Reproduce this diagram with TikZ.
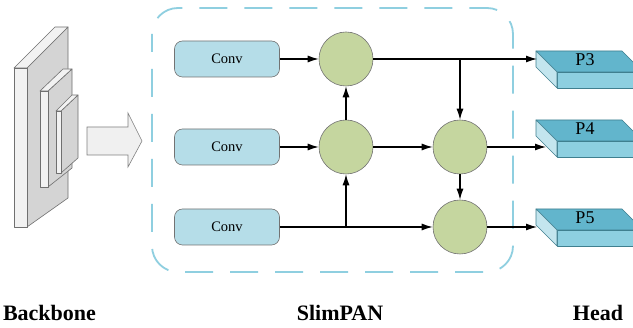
\documentclass[tikz,border=0pt]{standalone}
\usepackage{fontspec}
\setmainfont{Liberation Serif}
\usetikzlibrary{arrows.meta}
\definecolor{convfill}{HTML}{B5DDE8}
\definecolor{circfill}{HTML}{C5D69F}
\definecolor{dashblue}{HTML}{8FCFE0}
\definecolor{ptop}{HTML}{62B5CC}
\definecolor{pfront}{HTML}{8DCFE0}
\definecolor{pside}{HTML}{C3E5EE}
\definecolor{pedge}{HTML}{3F7F8F}
\definecolor{bbside}{HTML}{D4D4D4}
\definecolor{bbfront}{HTML}{F2F2F2}
\definecolor{bbedge}{HTML}{707070}
\tikzset{
  convbox/.style={draw=black!55, fill=convfill, rounded corners=8pt, minimum width=105pt, minimum height=36pt, inner sep=0pt, font=\fontsize{14.5}{16}\selectfont, line width=0.6pt},
  fuse/.style={circle, draw=black!55, fill=circfill, minimum size=54pt, inner sep=0pt, line width=0.6pt},
  conn/.style={line width=1.2pt, -{Latex[length=11pt,width=7pt]}},
  plain/.style={line width=1.2pt},
  bbface/.style={draw=bbedge, line width=0.6pt, line join=round},
  pface/.style={draw=pedge, line width=0.6pt, line join=round},
  lbl/.style={font=\fontsize{22}{24}\selectfont\bfseries},
  plbl/.style={font=\fontsize{18}{20}\selectfont}
}
\begin{document}
\begin{tikzpicture}[x=1pt,y=-1pt]
\clip (0,0) rectangle (633,328);
\fill[white] (0,0) rectangle (633,328);
% backbone slabs
\draw[bbface, fill=bbside] (27,68) -- (68,27) -- (68,198) -- (27,227) -- cycle;
\draw[bbface, fill=bbfront] (14,68) -- (55,27) -- (68,27) -- (27,68) -- cycle;
\draw[bbface, fill=bbfront] (14,68) rectangle (27,227);
\draw[bbface, fill=bbside] (48,91) -- (72,69) -- (72,168) -- (48,187) -- cycle;
\draw[bbface, fill=bbfront] (40,91) -- (63,69) -- (72,69) -- (48,91) -- cycle;
\draw[bbface, fill=bbfront] (40,91) rectangle (48,187);
\draw[bbface, fill=bbside] (61,111) -- (78,95) -- (78,158) -- (61,173) -- cycle;
\draw[bbface, fill=bbfront] (56,111) -- (72,95) -- (78,95) -- (61,111) -- cycle;
\draw[bbface, fill=bbfront] (56,111) rectangle (61,173);
% block arrow
\draw[draw=black!50, fill=black!6, line width=0.6pt, line join=miter]
  (87,127) -- (128,127) -- (128,113) -- (142,141) -- (128,167) -- (128,155) -- (87,155) -- cycle;
% dashed frame
\draw[dashblue, line width=1.8pt, dash pattern=on 28pt off 17pt, dash phase=10pt, rounded corners=26pt]
  (152,8) rectangle (513,272);
% conv boxes
\node[convbox] (conv1) at (227,59) {Conv};
\node[convbox] (conv2) at (227,147) {Conv};
\node[convbox] (conv3) at (227,227) {Conv};
% fusion nodes
\node[fuse] (c1) at (346,59) {};
\node[fuse] (c2) at (346,147) {};
\node[fuse] (c3) at (460,147) {};
\node[fuse] (c4) at (460,227) {};
% head blocks
\foreach \n/\y in {3/51, 4/120, 5/209}{
  \draw[pface, fill=ptop] (536,\y) -- (622,\y) -- (643,\y+21) -- (557,\y+21) -- cycle;
  \draw[pface, fill=pfront] (557,\y+21) rectangle (643,\y+37);
  \draw[pface, fill=pside] (536,\y) -- (557,\y+21) -- (557,\y+37) -- (536,\y+16) -- cycle;
  \node[plbl] (p\n) at (585,\y+9) {P\n};
}
\coordinate (h3) at (537,59);
\coordinate (h4) at (546,147);
\coordinate (h5) at (537,227);
\coordinate (b1) at (346,227);
\coordinate (b2) at (460,59);
% connectors
\draw[conn] (conv1) -- (c1);
\draw[conn] (conv2) -- (c2);
\draw[conn] (conv3) -- (c4);
\draw[conn] (b1) -- (c2);
\draw[conn] (c2) -- (c1);
\draw[conn] (c1) -- (h3);
\draw[conn] (b2) -- (c3);
\draw[conn] (c2) -- (c3);
\draw[conn] (c3) -- (h4);
\draw[conn] (c3) -- (c4);
\draw[conn] (c4) -- (h5);
% labels
\node[lbl] (lb) at (49.5,313) {Backbone};
\node[lbl] (ls) at (340,313) {SlimPAN};
\node[lbl] (lh) at (598,313) {Head};
\end{tikzpicture}
\end{document}
